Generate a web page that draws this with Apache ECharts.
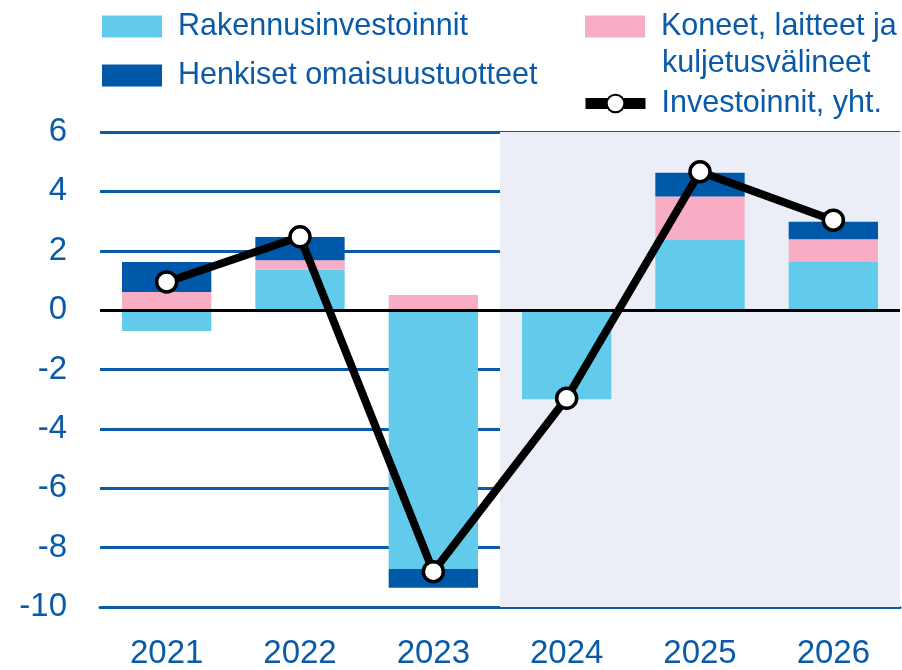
<!DOCTYPE html>
<html><head><meta charset="utf-8">
<script src="https://cdn.jsdelivr.net/npm/echarts@6/dist/echarts.min.js"></script>
<style>html,body{margin:0;padding:0;background:#fff}#c{width:902px;height:670px}</style>
</head><body><div id="c"></div>
<script>
var years = ['2021','2022','2023','2024','2025','2026'];
var rakennus = [-0.70, 1.37, -8.72, -3.00, 2.36, 1.62];
var koneet = [0.61, 0.31, 0.51, 0, 1.47, 0.77];
var henkiset = [1.01, 0.78, -0.63, 0, 0.80, 0.59];
var total = [0.95, 2.47, -8.81, -2.97, 4.66, 3.03];
var yTicks = [-10, -8, -6, -4, -2, 0, 2, 4, 6];
var forecastStart = 3; // index of 2024
var names = ['Rakennusinvestoinnit', 'Koneet, laitteet ja kuljetusvälineet', 'Henkiset omaisuustuotteet', 'Investoinnit, yht.'];

var blue = '#0a5aa8';
var font = 'Liberation Sans';
var legendText = {color: blue, fontSize: 30.5, fontFamily: font, lineHeight: 22, padding: [0,0,0,11]};
var chart = echarts.init(document.getElementById('c'));
chart.setOption({
  animation: false,
  grid: {left: 100, right: 2, top: 132, bottom: 56},
  legend: [
    {left: 102, top: 11, padding: 0, orient: 'vertical', itemWidth: 60, itemHeight: 22, itemGap: 18,
     icon: 'rect', data: [names[0], names[2]], textStyle: legendText},
    {left: 585, top: 11, padding: 0, itemWidth: 60, itemHeight: 22, icon: 'rect',
     data: [names[1]], textStyle: legendText,
     formatter: function () { return 'Koneet, laitteet ja'; }},
    {left: 580, top: 88, padding: 0, itemWidth: 60, itemHeight: 22,
     data: [names[3]], textStyle: legendText,
     lineStyle: {width: 11, color: '#000'}}
  ],
  graphic: [{type: 'text', left: 662, top: 48,
    style: {text: 'kuljetusvälineet', fill: blue, font: '30.5px "Liberation Sans"'}}],
  xAxis: [{
    type: 'category', data: years,
    axisLine: {onZero: false, lineStyle: {color: blue, width: 3}},
    axisTick: {length: 10, lineStyle: {color: blue, width: 3}},
    axisLabel: {color: blue, fontSize: 33, fontFamily: font, margin: 30}
  }, {
    type: 'value', min: 0, max: 6, show: false
  }],
  yAxis: {
    type: 'value', min: yTicks[0], max: yTicks[yTicks.length-1], interval: 2,
    axisLine: {show: false}, axisTick: {show: false},
    splitLine: {lineStyle: {color: blue, width: 3}},
    axisLabel: {color: blue, fontSize: 33, fontFamily: font, margin: 33}
  },
  series: [
    {type: 'line', xAxisIndex: 1, data: [], z: -1, silent: true,
     markArea: {silent: true, itemStyle: {color: '#eceef7'},
       data: [[{xAxis: forecastStart, yAxis: yTicks[yTicks.length-1]}, {xAxis: years.length, yAxis: yTicks[0]}]]}},
    {name: names[0], type: 'bar', stack: 's', data: rakennus, barWidth: '67%',
     itemStyle: {color: '#62cbec'}},
    {name: names[1], type: 'bar', stack: 's', data: koneet,
     itemStyle: {color: '#f7aec4'}},
    {name: names[2], type: 'bar', stack: 's', data: henkiset,
     itemStyle: {color: '#0059a8'}},
    {name: names[3], type: 'line', data: total, z: 5,
     symbol: 'circle', symbolSize: 20,
     lineStyle: {color: '#000', width: 8},
     itemStyle: {color: '#fff', borderColor: '#000', borderWidth: 3.5},
     markLine: {silent: true, symbol: 'none', label: {show: false},
       lineStyle: {color: '#000', width: 3, type: 'solid'},
       data: [{yAxis: 0}]}}
  ]
});
</script></body></html>
